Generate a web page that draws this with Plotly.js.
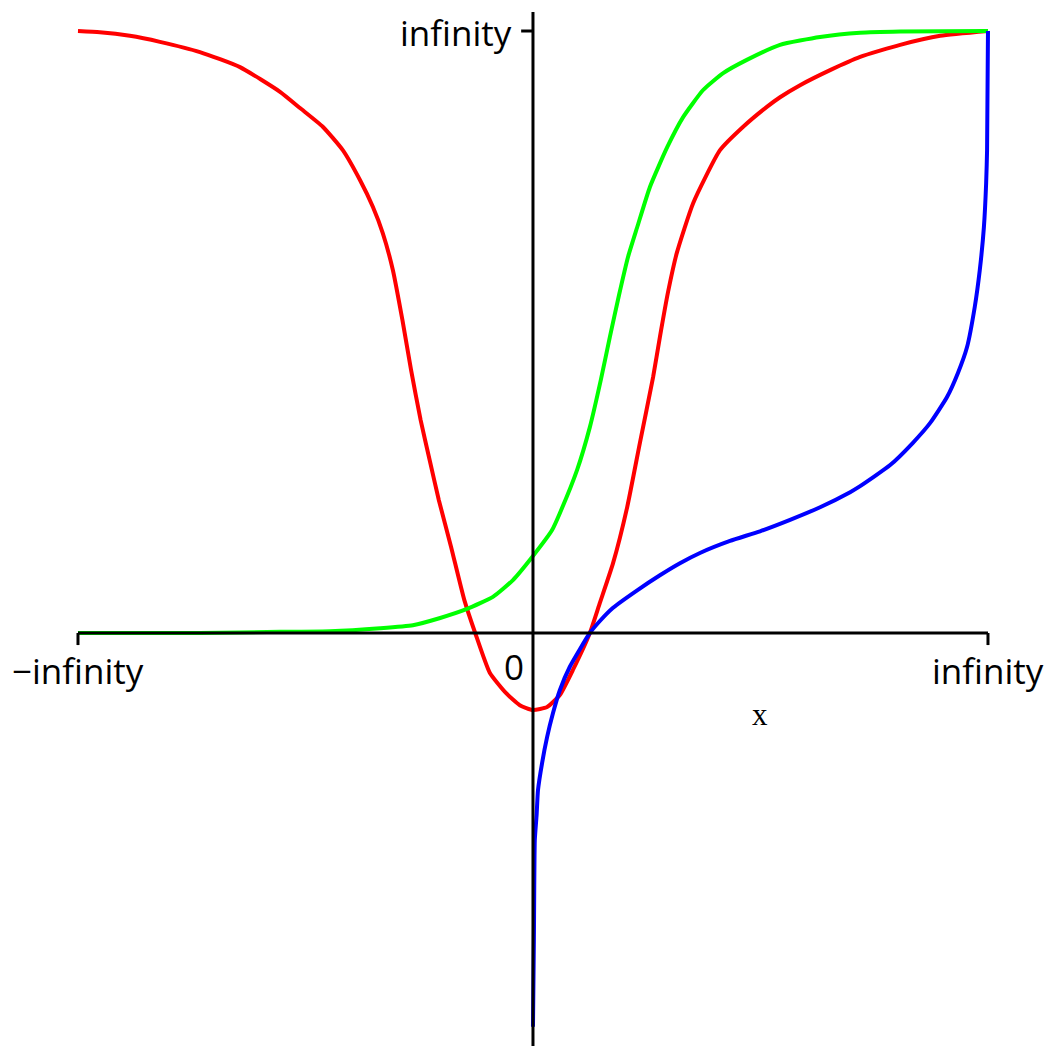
<!DOCTYPE html>
<html>
<head>
<meta charset="utf-8">
<script src="https://cdn.plot.ly/plotly-3.0.1.min.js"></script>
<style>
  html, body { margin: 0; padding: 0; background: #ffffff; }
  #plot { width: 1051px; height: 1046px; }
</style>
</head>
<body>
<div id="plot"></div>
<script>
// Compactified axes: x = -1 is -infinity, x = 1 is +infinity; y = 1 is +infinity.

// red curve
const redX = [-1.000, -0.952, -0.886, -0.820, -0.732, -0.644, -0.556, -0.512, -0.462, -0.418,
              -0.380, -0.352, -0.330, -0.308, -0.287, -0.268, -0.247, -0.227, -0.207, -0.180,
              -0.151, -0.127, -0.095, -0.059, -0.029, 0.000, 0.031, 0.059, 0.088,
              0.125, 0.147, 0.176, 0.207, 0.235, 0.264, 0.279, 0.297, 0.316, 0.352,
              0.411, 0.462, 0.514, 0.543, 0.587, 0.653, 0.719, 0.807, 0.895, 1.000];
const redY = [1.000, 0.998, 0.992, 0.982, 0.965, 0.940, 0.899, 0.872, 0.841, 0.802,
              0.752, 0.708, 0.664, 0.603, 0.520, 0.437, 0.354, 0.287, 0.221, 0.143,
              0.055, 0.000, -0.066, -0.100, -0.120, -0.128, -0.123, -0.103, -0.061,
              0.000, 0.050, 0.116, 0.209, 0.316, 0.425, 0.492, 0.567, 0.631, 0.714,
              0.802, 0.841, 0.874, 0.890, 0.910, 0.935, 0.957, 0.977, 0.992, 1.000];

// green curve
const greenX = [-1.000, -0.732, -0.556, -0.446, -0.336, -0.264, -0.204, -0.145, -0.088, -0.044,
                0.000, 0.042, 0.059, 0.097, 0.125, 0.149, 0.169, 0.189, 0.209, 0.229,
                0.257, 0.295, 0.330, 0.374, 0.418, 0.470, 0.543, 0.631, 0.719, 0.807, 1.000];
const greenY = [0.000, 0.000, 0.002, 0.003, 0.008, 0.013, 0.025, 0.040, 0.060, 0.088,
                0.128, 0.171, 0.199, 0.271, 0.342, 0.420, 0.492, 0.561, 0.625, 0.674,
                0.741, 0.807, 0.857, 0.902, 0.930, 0.952, 0.977, 0.990, 0.997, 0.999, 1.000];

// blue curve
const blueX = [0.000, 0.002, 0.004, 0.008, 0.011, 0.020, 0.031, 0.044, 0.059, 0.081, 0.125,
               0.147, 0.176, 0.229, 0.279, 0.323, 0.367, 0.433, 0.499, 0.565, 0.631, 0.697,
               0.719, 0.785, 0.835, 0.873, 0.910, 0.934, 0.954, 0.971, 0.982, 0.991,
               0.996, 0.998, 1.000];
const blueY = [-0.654, -0.510, -0.344, -0.302, -0.261, -0.216, -0.173, -0.133, -0.095, -0.056, 0.000,
               0.020, 0.042, 0.071, 0.096, 0.116, 0.133, 0.153, 0.169, 0.188, 0.209, 0.234,
               0.244, 0.279, 0.316, 0.349, 0.392, 0.432, 0.475, 0.542, 0.603, 0.674,
               0.748, 0.802, 1.000];

// axis tick labels
const xTickVals = [-1, 1];
const xTickText = ["\u2212infinity", "infinity"];
const yTickVals = [1];
const yTickText = ["infinity"];

const labelFont = { family: "Open Sans, Noto Sans, sans-serif", size: 35, color: "#000000" };

function curve(x, y, color) {
  return {
    type: "scatter", mode: "lines", x: x, y: y,
    line: { color: color, width: 4, shape: "spline", smoothing: 0.5 },
    hoverinfo: "skip", showlegend: false
  };
}

const data = [
  curve(redX, redY, "#ff0000"),
  curve(greenX, greenY, "#00ff00"),
  curve(blueX, blueY, "#0000ff")
];

const xRange = [-1.1714, 1.1385];
const yRange = [-0.686, 1.0515];
const tickLenX = 0.020;   // tick length in y units
const tickLenY = 0.026;   // tick length in x units
const axisLine = { color: "#000000", width: 3 };

const shapes = [
  { type: "line", layer: "above", x0: -1, x1: 1, y0: 0, y1: 0, line: axisLine },
  { type: "line", layer: "above", x0: 0, x1: 0, y0: yRange[0], y1: 1.0316, line: axisLine }
];
xTickVals.forEach(v => shapes.push({ type: "line", layer: "above", x0: v, x1: v, y0: 0, y1: -tickLenX, line: axisLine }));
yTickVals.forEach(v => shapes.push({ type: "line", layer: "above", x0: 0, x1: -tickLenY, y0: v, y1: v, line: axisLine }));

const annotations = [];
xTickVals.forEach((v, i) => annotations.push({
  x: v, y: -0.063, text: xTickText[i], showarrow: false,
  xanchor: "center", yanchor: "middle", font: labelFont
}));
yTickVals.forEach((v, i) => annotations.push({
  x: -0.042, y: v - 0.003, text: yTickText[i], showarrow: false,
  xanchor: "right", yanchor: "middle", font: labelFont
}));
annotations.push({ x: -0.042, y: -0.056, text: "0", showarrow: false, xanchor: "center", yanchor: "middle", font: labelFont });
annotations.push({ x: 0.499, y: -0.135, text: "x", showarrow: false, xanchor: "center", yanchor: "middle",
  font: { family: "Liberation Serif, Times New Roman, serif", size: 31, color: "#000000" } });

const layout = {
  width: 1051, height: 1046,
  margin: { l: 0, r: 0, t: 0, b: 0, pad: 0 },
  paper_bgcolor: "#ffffff", plot_bgcolor: "#ffffff",
  showlegend: false,
  xaxis: { range: xRange, visible: false, fixedrange: true },
  yaxis: { range: yRange, visible: false, fixedrange: true },
  shapes: shapes,
  annotations: annotations
};

Plotly.newPlot("plot", data, layout, { staticPlot: true, displayModeBar: false });
</script>
</body>
</html>
